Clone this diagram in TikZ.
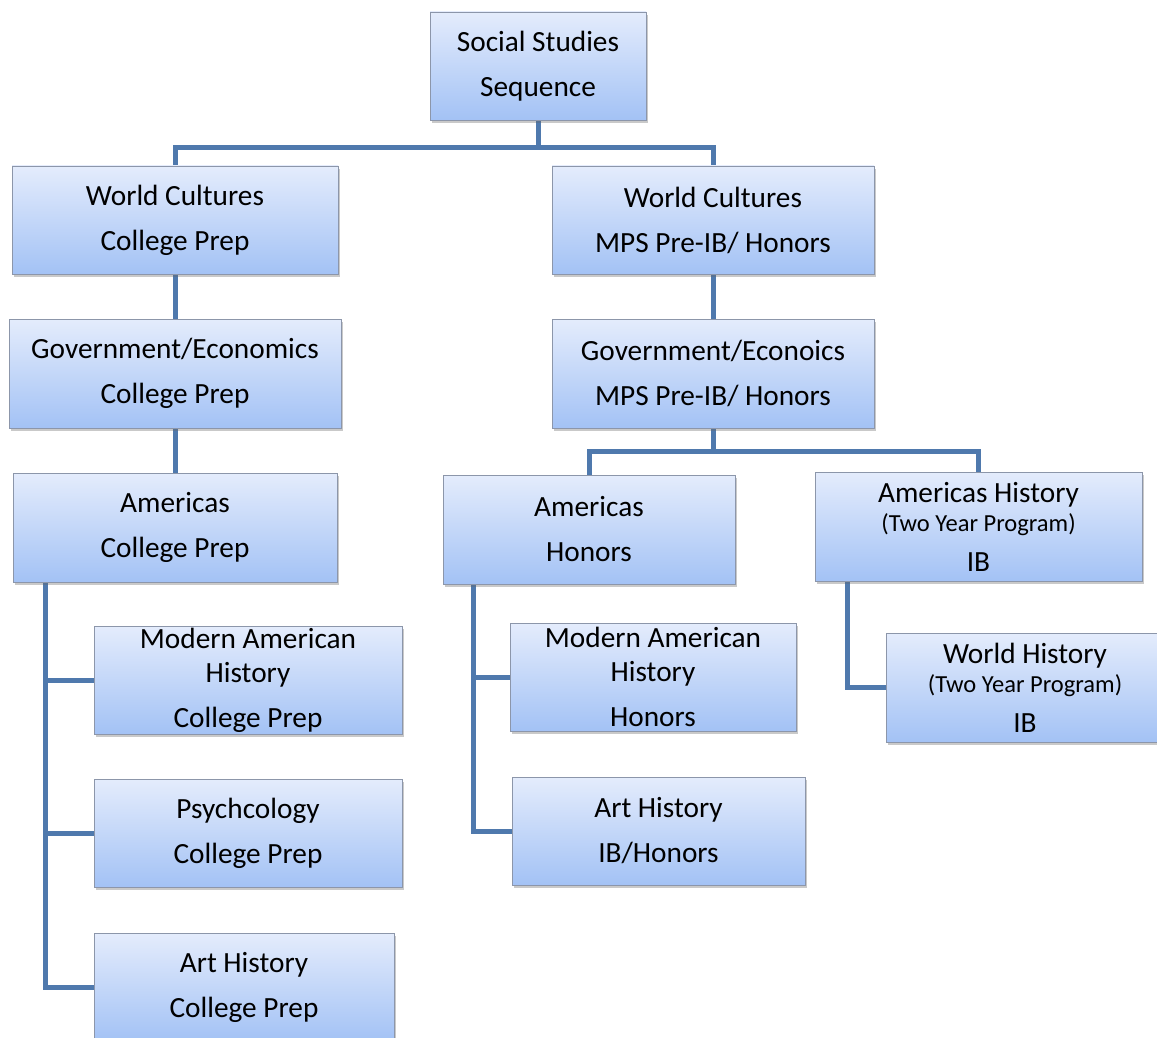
\documentclass[tikz,border=0pt]{standalone}
\usepackage{fontspec}
\setmainfont{Carlito}
\usetikzlibrary{shadows,backgrounds}
\definecolor{linec}{RGB}{79,121,173}
\definecolor{gtop}{RGB}{228,236,252}
\definecolor{gbot}{RGB}{163,194,245}
\definecolor{bord}{RGB}{140,150,170}
\tikzset{
  box/.style={draw=bord, line width=0.8pt, top color=gtop, bottom color=gbot,
    inner sep=0pt, align=center, font=\fontsize{29.3}{45}\selectfont,
    drop shadow={shadow xshift=2pt, shadow yshift=-3pt, opacity=0.35, fill=black!60}},
  conn/.style={draw=linec, line width=5pt}
}
\newcommand{\smalltxt}[1]{{\fontsize{24.5}{26}\selectfont #1}}
\begin{document}
\begin{tikzpicture}[x=1pt,y=-1pt]
\clip (0,0) rectangle (1157,1038);
\node[box, minimum width=216pt, minimum height=108pt] (ss) at (538,66) {Social Studies\\Sequence};
\node[box, minimum width=326pt, minimum height=108pt] (wc1) at (175,220) {World Cultures\\College Prep};
\node[box, minimum width=322pt, minimum height=108pt] (wc2) at (713,220) {World Cultures\\MPS Pre-IB/ Honors};
\node[box, minimum width=332pt, minimum height=109pt] (gv1) at (175,373.5) {Government/Economics\\College Prep};
\node[box, minimum width=322pt, minimum height=109pt] (gv2) at (713,373.5) {Government/Econoics\\MPS Pre-IB/ Honors};
\node[box, minimum width=324pt, minimum height=109pt] (am1) at (175,527.5) {Americas\\College Prep};
\node[box, minimum width=292pt, minimum height=109pt] (am2) at (589,529.5) {Americas\\Honors};
\node[box, minimum width=327pt, minimum height=109pt] (ah) at (978.5,526.5) {Americas History\\[-16pt]\smalltxt{(Two Year Program)}\\[-5pt]IB};
\node[box, minimum width=308pt, minimum height=108pt] (mah1) at (248,680) {Modern American\\[-11pt]History\\College Prep};
\node[box, minimum width=308pt, minimum height=108pt] (psy1) at (248,833) {Psychcology\\College Prep};
\node[box, minimum width=300pt, minimum height=108pt] (art1) at (244,987) {Art History\\College Prep};
\node[box, minimum width=286pt, minimum height=108pt] (mah2) at (653,677) {Modern American\\[-11pt]History\\Honors};
\node[box, minimum width=293pt, minimum height=108pt] (art2) at (658.5,831) {Art History\\IB/Honors};
\node[box, minimum width=278pt, minimum height=109pt] (wh) at (1025,687.5) {World History\\[-16pt]\smalltxt{(Two Year Program)}\\[-5pt]IB};
\begin{pgfonlayer}{background}
\fill[white] (0,0) rectangle (1157,1038);
\coordinate (j1) at ([yshift=-27pt]ss.south);
\draw[conn] (ss.south) -- (j1) -| (wc1.north);
\draw[conn] (j1) -| (wc2.north);
\draw[conn] (wc1.south) -- (gv1.north);
\draw[conn] (gv1.south) -- (am1.north);
\draw[conn] (wc2.south) -- (gv2.north);
\coordinate (j2) at ([yshift=-23pt]gv2.south);
\draw[conn] (gv2.south) -- (j2) -| (am2.north);
\draw[conn] (j2) -| (ah.north);
\draw[conn] ([xshift=33pt]am1.south west) |- (mah1.west);
\draw[conn] ([xshift=33pt]am1.south west) |- (psy1.west);
\draw[conn] ([xshift=33pt]am1.south west) |- (art1.west);
\draw[conn] ([xshift=31pt]am2.south west) |- (mah2.west);
\draw[conn] ([xshift=31pt]am2.south west) |- (art2.west);
\draw[conn] ([xshift=33pt]ah.south west) |- (wh.west);
\end{pgfonlayer}
\end{tikzpicture}
\end{document}
